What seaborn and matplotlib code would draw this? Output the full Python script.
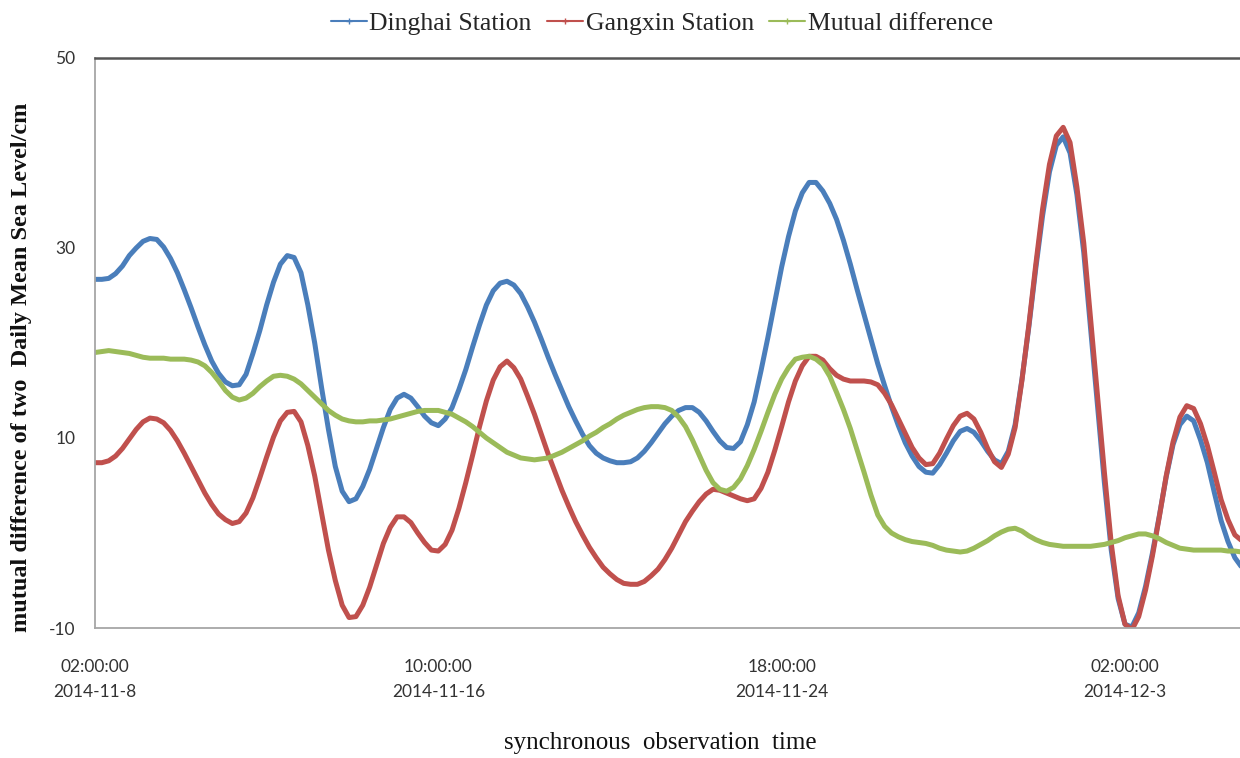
import numpy as np
import pandas as pd
import matplotlib
matplotlib.use('Agg')
import matplotlib.pyplot as plt
from matplotlib.lines import Line2D
import seaborn as sns

# sampled every 4 hours from 2014-11-08 02:00
start = pd.Timestamp('2014-11-08 02:00:00')
step_hours = 4

dinghai = [26.7, 26.7, 26.8, 27.3, 28.1, 29.2, 30.0, 30.7, 31.0, 30.9,
           30.1, 28.9, 27.4, 25.6, 23.7, 21.7, 19.8, 18.1, 16.8, 15.9,
           15.5, 15.6, 16.7, 18.9, 21.3, 24.0, 26.4, 28.3, 29.2, 29.0,
           27.4, 24.0, 20.0, 15.3, 10.9, 7.0, 4.4, 3.3, 3.6, 4.9,
           6.7, 8.9, 11.1, 13.0, 14.2, 14.6, 14.2, 13.3, 12.3, 11.6,
           11.3, 12.0, 13.2, 15.1, 17.2, 19.6, 21.9, 24.0, 25.5, 26.3,
           26.5, 26.1, 25.2, 23.8, 22.2, 20.4, 18.5, 16.7, 15.0, 13.3,
           11.8, 10.4, 9.2, 8.4, 7.9, 7.6, 7.4, 7.4, 7.5, 7.9,
           8.6, 9.5, 10.5, 11.5, 12.3, 12.9, 13.2, 13.2, 12.7, 11.8,
           10.7, 9.7, 9.0, 8.9, 9.6, 11.4, 13.8, 17.1, 20.6, 24.3,
           28.0, 31.2, 33.9, 35.8, 36.9, 36.9, 36.0, 34.7, 33.0, 30.8,
           28.3, 25.6, 23.0, 20.4, 17.8, 15.5, 13.3, 11.3, 9.5, 8.1,
           7.0, 6.4, 6.3, 7.2, 8.4, 9.7, 10.7, 11.0, 10.6, 9.7,
           8.6, 7.7, 7.3, 8.6, 11.4, 16.2, 21.7, 27.8, 33.4, 38.0,
           40.8, 41.7, 40.0, 35.6, 29.5, 21.5, 13.4, 5.3, -1.8, -6.9,
           -9.6, -9.9, -8.4, -5.6, -2.1, 1.8, 5.9, 9.3, 11.4, 12.3,
           11.8, 9.8, 7.4, 4.3, 1.3, -0.9, -2.6, -3.6, -4.5]

gangxin = [7.4, 7.4, 7.6, 8.1, 8.9, 9.9, 10.9, 11.7, 12.1, 12.0,
           11.6, 10.8, 9.7, 8.4, 7.0, 5.6, 4.2, 3.0, 2.0, 1.4,
           1.0, 1.2, 2.1, 3.7, 5.8, 8.0, 10.1, 11.8, 12.7, 12.8,
           11.7, 9.2, 6.0, 2.1, -1.8, -5.0, -7.6, -8.9, -8.8, -7.6,
           -5.7, -3.4, -1.1, 0.6, 1.7, 1.7, 1.1, 0.0, -1.0, -1.8,
           -1.9, -1.2, 0.3, 2.6, 5.3, 8.2, 11.2, 13.9, 16.1, 17.5,
           18.1, 17.4, 16.2, 14.4, 12.5, 10.4, 8.3, 6.4, 4.5, 2.8,
           1.2, -0.2, -1.5, -2.6, -3.6, -4.3, -4.9, -5.3, -5.4, -5.4,
           -5.1, -4.5, -3.8, -2.8, -1.6, -0.2, 1.2, 2.3, 3.3, 4.1,
           4.6, 4.5, 4.2, 3.9, 3.6, 3.4, 3.6, 4.7, 6.4, 8.7,
           11.2, 13.8, 16.0, 17.6, 18.6, 18.6, 18.2, 17.3, 16.6, 16.2,
           16.0, 16.0, 16.0, 15.9, 15.6, 14.7, 13.5, 12.0, 10.5, 9.0,
           7.9, 7.2, 7.3, 8.4, 9.9, 11.3, 12.3, 12.6, 12.0, 10.6,
           8.9, 7.5, 6.9, 8.3, 11.1, 16.1, 21.9, 28.2, 34.1, 38.8,
           41.8, 42.7, 41.1, 36.4, 30.5, 22.5, 14.4, 6.4, -1.1, -6.6,
           -9.6, -10.2, -8.8, -6.0, -2.4, 1.7, 6.0, 9.6, 12.2, 13.4,
           13.1, 11.5, 9.2, 6.4, 3.5, 1.4, -0.2, -0.8, -1.5]

mutual = [19.0, 19.1, 19.2, 19.1, 19.0, 18.9, 18.7, 18.5, 18.4, 18.4,
          18.4, 18.3, 18.3, 18.3, 18.2, 18.0, 17.6, 16.9, 16.0, 15.0,
          14.3, 14.0, 14.2, 14.7, 15.4, 16.0, 16.5, 16.6, 16.5, 16.2,
          15.7, 15.0, 14.3, 13.6, 12.9, 12.4, 12.0, 11.8, 11.7, 11.7,
          11.8, 11.8, 11.9, 12.0, 12.2, 12.4, 12.6, 12.8, 12.9, 12.9,
          12.9, 12.7, 12.5, 12.1, 11.7, 11.2, 10.6, 10.0, 9.5, 9.0,
          8.5, 8.2, 7.9, 7.8, 7.7, 7.8, 7.9, 8.2, 8.5, 8.9,
          9.3, 9.7, 10.2, 10.6, 11.1, 11.5, 12.0, 12.4, 12.7, 13.0,
          13.2, 13.3, 13.3, 13.2, 12.9, 12.2, 11.2, 9.8, 8.2, 6.6,
          5.3, 4.6, 4.4, 4.8, 5.7, 7.1, 8.8, 10.7, 12.7, 14.6,
          16.2, 17.4, 18.3, 18.5, 18.6, 18.3, 17.7, 16.5, 14.8, 13.0,
          11.0, 8.7, 6.4, 4.0, 1.9, 0.7, 0.0, -0.4, -0.7, -0.9,
          -1.0, -1.1, -1.3, -1.6, -1.8, -1.9, -2.0, -1.9, -1.6, -1.2,
          -0.8, -0.3, 0.1, 0.4, 0.5, 0.2, -0.3, -0.7, -1.0, -1.2,
          -1.3, -1.4, -1.4, -1.4, -1.4, -1.4, -1.3, -1.2, -1.0, -0.8,
          -0.5, -0.3, -0.1, -0.1, -0.3, -0.6, -1.0, -1.3, -1.6, -1.7,
          -1.8, -1.8, -1.8, -1.8, -1.8, -1.9, -1.9, -2.0, -2.1]

series_names = ['Dinghai Station', 'Gangxin Station', 'Mutual difference']
colors = ['#4a7ebb', '#c0504d', '#9bbb59']

tick_hours = [0, 200, 400, 600]
minor_hours = [100, 300, 500]

hours = np.arange(len(dinghai)) * step_hours
df = pd.DataFrame({'hour': hours,
                   series_names[0]: dinghai,
                   series_names[1]: gangxin,
                   series_names[2]: mutual})
long_df = df.melt(id_vars='hour', var_name='series', value_name='level')

sns.set_style('white')
plt.rcParams['font.family'] = ['Liberation Serif', 'DejaVu Serif']

fig = plt.figure(figsize=(12.4, 7.58), dpi=100)
ax = fig.add_axes([0.0766, 0.1715, 0.9234, 0.752])

sns.lineplot(data=long_df, x='hour', y='level', hue='series',
             hue_order=series_names, palette=colors, linewidth=3.6,
             legend=False, ax=ax, solid_joinstyle='round',
             solid_capstyle='round')

ax.set_xlim(0, 667)
ax.set_ylim(-10, 50)
ax.set_yticks([-10, 10, 30, 50])
ax.set_yticklabels(['-10', '10', '30', '50'], fontfamily='Lato', fontsize=12.5,
                   color='#333333')

tick_labels = []
for h in tick_hours:
    t = start + pd.Timedelta(hours=h)
    tick_labels.append(f"{t:%H:%M:%S}\n{t.year}-{t.month}-{t.day}")
ax.set_xticks(tick_hours)
ax.set_xticklabels(tick_labels, fontfamily='Lato', fontsize=12.5,
                   color='#333333', linespacing=1.75)
ax.set_xticks(minor_hours, minor=True)

ax.tick_params(axis='x', which='both', direction='in', length=6,
               color='#a0a0a0', pad=22)
ax.tick_params(axis='y', direction='in', length=5, color='#a0a0a0', pad=14)

ax.spines['right'].set_visible(False)
ax.spines['top'].set_color('#555555')
ax.spines['top'].set_linewidth(1.8)
for side in ['left', 'bottom']:
    ax.spines[side].set_color('#a6a6a6')
    ax.spines[side].set_linewidth(1.3)

ax.set_xlabel('')
ax.set_ylabel('')
fig.text(660 / 1240, 1 - 743 / 758, 'synchronous  observation  time',
         ha='center', va='center', fontsize=18, color='#111111')
fig.text(22 / 1240, 1 - 367 / 758,
         'mutual difference of two  Daily Mean Sea Level/cm',
         rotation=90, ha='center', va='center', fontsize=17.5,
         fontweight='bold', color='#111111')

handles = [Line2D([0], [0], color=c, lw=1.5, marker='+', markersize=5)
           for c in colors]
fig.legend(handles, series_names, loc='center', ncol=3, frameon=False,
           bbox_to_anchor=(662 / 1240, 1 - 24 / 758), fontsize=18.5,
           handlelength=1.4, handletextpad=0.1, columnspacing=0.6)

fig.savefig('out.png', dpi=100)
